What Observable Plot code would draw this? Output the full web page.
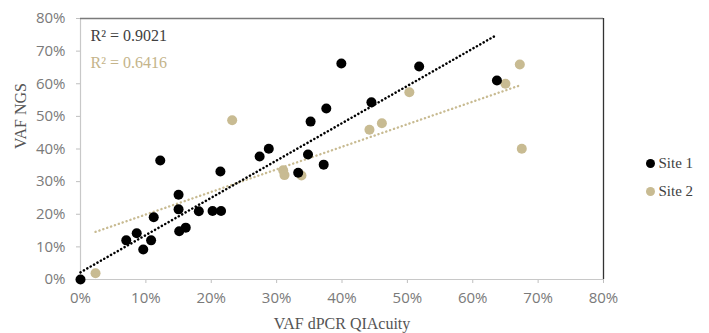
<!DOCTYPE html>
<html>
<head>
<meta charset="utf-8">
<script src="https://cdn.jsdelivr.net/npm/d3@7"></script>
<script src="https://cdn.jsdelivr.net/npm/@observablehq/plot@0.6"></script>
<style>
  html, body { margin: 0; padding: 0; background: #fff; }
  #chart { width: 709px; height: 333px; }
</style>
</head>
<body>
<div id="chart"></div>
<script>
// ---- data (percent values) ----
const site1X = [0, 7.0, 8.6, 9.6, 10.8, 11.2, 12.2, 15.0, 15.0, 15.1, 16.1, 18.1, 20.2, 21.5, 21.4, 27.4, 28.8, 33.3, 34.8, 35.2, 37.2, 37.6, 39.9, 44.5, 51.8, 63.7];
const site1Y = [0, 12.0, 14.2, 9.2, 12.0, 19.1, 36.5, 26.0, 21.5, 14.8, 15.9, 20.9, 21.0, 21.0, 33.1, 37.7, 40.1, 32.7, 38.3, 48.4, 35.2, 52.4, 66.2, 54.3, 65.3, 61.0];
const site2X = [2.3, 23.2, 31.0, 31.2, 33.8, 44.2, 46.1, 50.3, 65.0, 67.2, 67.5];
const site2Y = [1.9, 48.8, 33.5, 32.0, 31.9, 45.9, 47.9, 57.4, 60.0, 65.9, 40.1];
// trendline end points (x, y) for each site
const trend1X = [0, 63.7];
const trend1Y = [2.2, 75.0];
const trend2X = [2.3, 67.5];
const trend2Y = [14.6, 59.7];
const r2Labels = ["R² = 0.9021", "R² = 0.6416"];
const seriesNames = ["Site 1", "Site 2"];
const xTicks = [0, 10, 20, 30, 40, 50, 60, 70, 80];
const yTicks = [0, 10, 20, 30, 40, 50, 60, 70, 80];
const xTitle = "VAF dPCR QIAcuity";
const yTitle = "VAF NGS";

const colors = ["#000000", "#c8bb92"];
const pts1 = site1X.map((x, i) => ({x, y: site1Y[i]}));
const pts2 = site2X.map((x, i) => ({x, y: site2Y[i]}));
const tr1 = trend1X.map((x, i) => ({x, y: trend1Y[i]}));
const tr2 = trend2X.map((x, i) => ({x, y: trend2Y[i]}));
const serif = "Liberation Serif, DejaVu Serif, serif";
const fmt = d => d + "%";

const chart = Plot.plot({
  width: 709,
  height: 333,
  marginLeft: 80,
  marginRight: 106,
  marginTop: 18,
  marginBottom: 54,
  style: {fontFamily: "Open Sans, sans-serif", fontSize: "15px", color: "#777", background: "#fff", overflow: "visible"},
  x: {domain: [0, 80], ticks: xTicks, tickFormat: fmt},
  y: {domain: [0, 80], ticks: yTicks, tickFormat: fmt},
  marks: [
    Plot.axisX({ticks: xTicks, tickFormat: fmt, tickSize: 4, tickPadding: 9, stroke: "#bfbfbf", label: null, fill: "#7a7a7a", fontSize: 15}),
    Plot.axisY({ticks: yTicks, tickFormat: fmt, tickSize: 4, tickPadding: 11, stroke: "#bfbfbf", label: null, fill: "#7a7a7a", fontSize: 15}),
    Plot.ruleX([0], {stroke: "#c8c8c8", strokeWidth: 1.2}),
    Plot.ruleY([0], {stroke: "#c8c8c8", strokeWidth: 1.2}),
    Plot.ruleY([80], {stroke: "#7a7a7a", strokeWidth: 1.6}),
    Plot.ruleX([80], {stroke: "#333", strokeWidth: 1.3}),
    Plot.line(tr2, {x: "x", y: "y", stroke: colors[1], strokeWidth: 2.4, strokeDasharray: "0.1 4", strokeLinecap: "round"}),
    Plot.line(tr1, {x: "x", y: "y", stroke: colors[0], strokeWidth: 2.5, strokeDasharray: "0.1 3.8", strokeLinecap: "round"}),
    Plot.dot(pts2, {x: "x", y: "y", r: 5, fill: colors[1], stroke: null}),
    Plot.dot(pts1, {x: "x", y: "y", r: 5, fill: colors[0], stroke: null}),
    Plot.text([r2Labels[0]], {frameAnchor: "top-left", dx: 10, dy: 17, lineAnchor: "middle", textAnchor: "start", fill: "#404040", fontFamily: serif, fontSize: 16}),
    Plot.text([r2Labels[1]], {frameAnchor: "top-left", dx: 10, dy: 44, lineAnchor: "middle", textAnchor: "start", fill: "#c4b48a", fontFamily: serif, fontSize: 16}),
    Plot.text([xTitle], {frameAnchor: "bottom", dy: 44, lineAnchor: "middle", fill: "#555", fontFamily: serif, fontSize: 16}),
    Plot.text([yTitle], {frameAnchor: "left", dx: -60, rotate: -90, fill: "#555", fontFamily: serif, fontSize: 16}),
    Plot.dot([seriesNames[0]], {frameAnchor: "right", dx: 47, dy: 14.5, r: 4.5, fill: colors[0]}),
    Plot.dot([seriesNames[1]], {frameAnchor: "right", dx: 47, dy: 42.5, r: 4.5, fill: colors[1]}),
    Plot.text([seriesNames[0]], {frameAnchor: "right", dx: 55, dy: 14.5, textAnchor: "start", fill: "#404040", fontFamily: serif, fontSize: 15}),
    Plot.text([seriesNames[1]], {frameAnchor: "right", dx: 55, dy: 42.5, textAnchor: "start", fill: "#404040", fontFamily: serif, fontSize: 15})
  ]
});
document.getElementById("chart").appendChild(chart);
</script>
</body>
</html>
